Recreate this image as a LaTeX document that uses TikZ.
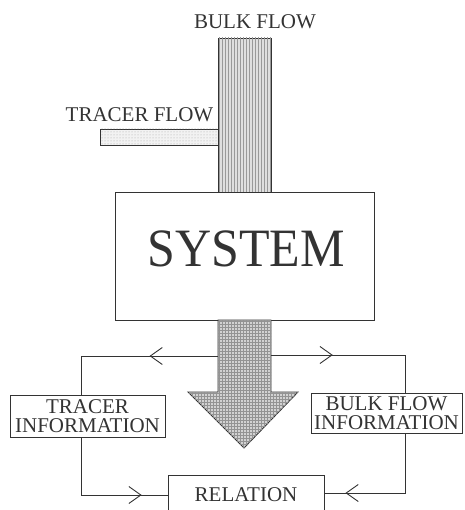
\documentclass[tikz,border=0pt]{standalone}
\usepackage{fontspec}
\setmainfont{Liberation Serif}
\usetikzlibrary{arrows.meta,patterns,decorations.markings}
\definecolor{ink}{HTML}{333333}
\tikzset{
  txt/.style={font=\fontsize{21}{18}\selectfont, text=ink, inner sep=0pt},
  box/.style={draw=ink, line width=0.9pt, fill=white, align=center, inner sep=0pt,
              font=\fontsize{21}{19}\selectfont, text=ink},
  conn/.style={draw=ink, line width=0.9pt},
  midarr/.style={postaction={decorate, decoration={markings,
      mark=at position #1 with {\arrow[ink, line width=0.9pt]{Straight Barb[length=12pt, width=17pt]}}}}},
  colfill/.style={draw=ink, line width=0.9pt, fill=gray!25,
      postaction={pattern=vertical lines, pattern color=gray!80}},
  barfill/.style={draw=ink, line width=0.9pt, fill=gray!10,
      postaction={pattern=dots, pattern color=gray!70}},
  headfill/.style={draw=ink, line width=0.9pt, fill=gray!35,
      postaction={pattern=grid, pattern color=gray!85}}
}
\begin{document}
\begin{tikzpicture}[x=1pt,y=-1pt]
\useasboundingbox (0,0) rectangle (464,510);

% upper bulk flow column and tracer bar
\draw[colfill] (218,38) rectangle (271,192);
\draw[barfill] (100,129) rectangle (218,145);
\node[txt, anchor=base] (bulklbl) at (255,29) {BULK FLOW};
\node[txt, anchor=base] (tracerlbl) at (139.5,122) {TRACER FLOW};

% system box
\node[draw=ink, line width=0.9pt, fill=white, minimum width=259pt, minimum height=128pt, inner sep=0pt]
  (system) at (244.5,256) {};
\node[txt, font=\fontsize{50}{50}\selectfont, anchor=base, yscale=1.08] (systxt) at (246,266) {SYSTEM};

% big down arrow
\draw[headfill] (218,320) -- (271,320) -- (271,392) -- (298,392) -- (244,448)
   -- (188,392) -- (218,392) -- cycle;
\coordinate (outL) at (218,356);
\coordinate (outR) at (271,355);

% information boxes
\node[box, minimum width=155pt, minimum height=42pt] (tinfo) at (87.5,416) {TRACER\\INFORMATION};
\node[box, minimum width=151pt, minimum height=40pt] (binfo) at (386.5,413) {BULK FLOW\\INFORMATION};
\node[box, minimum width=156pt, minimum height=40pt] (rel) at (246,495) {RELATION};

% attachment points on the information boxes
\coordinate (tinN) at ([xshift=-6.5pt]tinfo.north);
\coordinate (tinS) at ([xshift=-6.5pt]tinfo.south);
\coordinate (binN) at ([xshift=18.5pt]binfo.north);
\coordinate (binS) at ([xshift=18.5pt]binfo.south);

% connectors
\draw[conn, midarr=0.39] (outL) -- (outL -| tinN) -- (tinN);
\draw[conn, midarr=0.36] (outR) -- (outR -| binN) -- (binN);
\draw[conn, midarr=0.82] (tinS) -- (tinS |- rel.west) -- (rel.west);
\draw[conn, midarr=0.85] (binS) -- (binS |- 0,493) -- (rel.east |- 0,493);
\end{tikzpicture}
\end{document}
